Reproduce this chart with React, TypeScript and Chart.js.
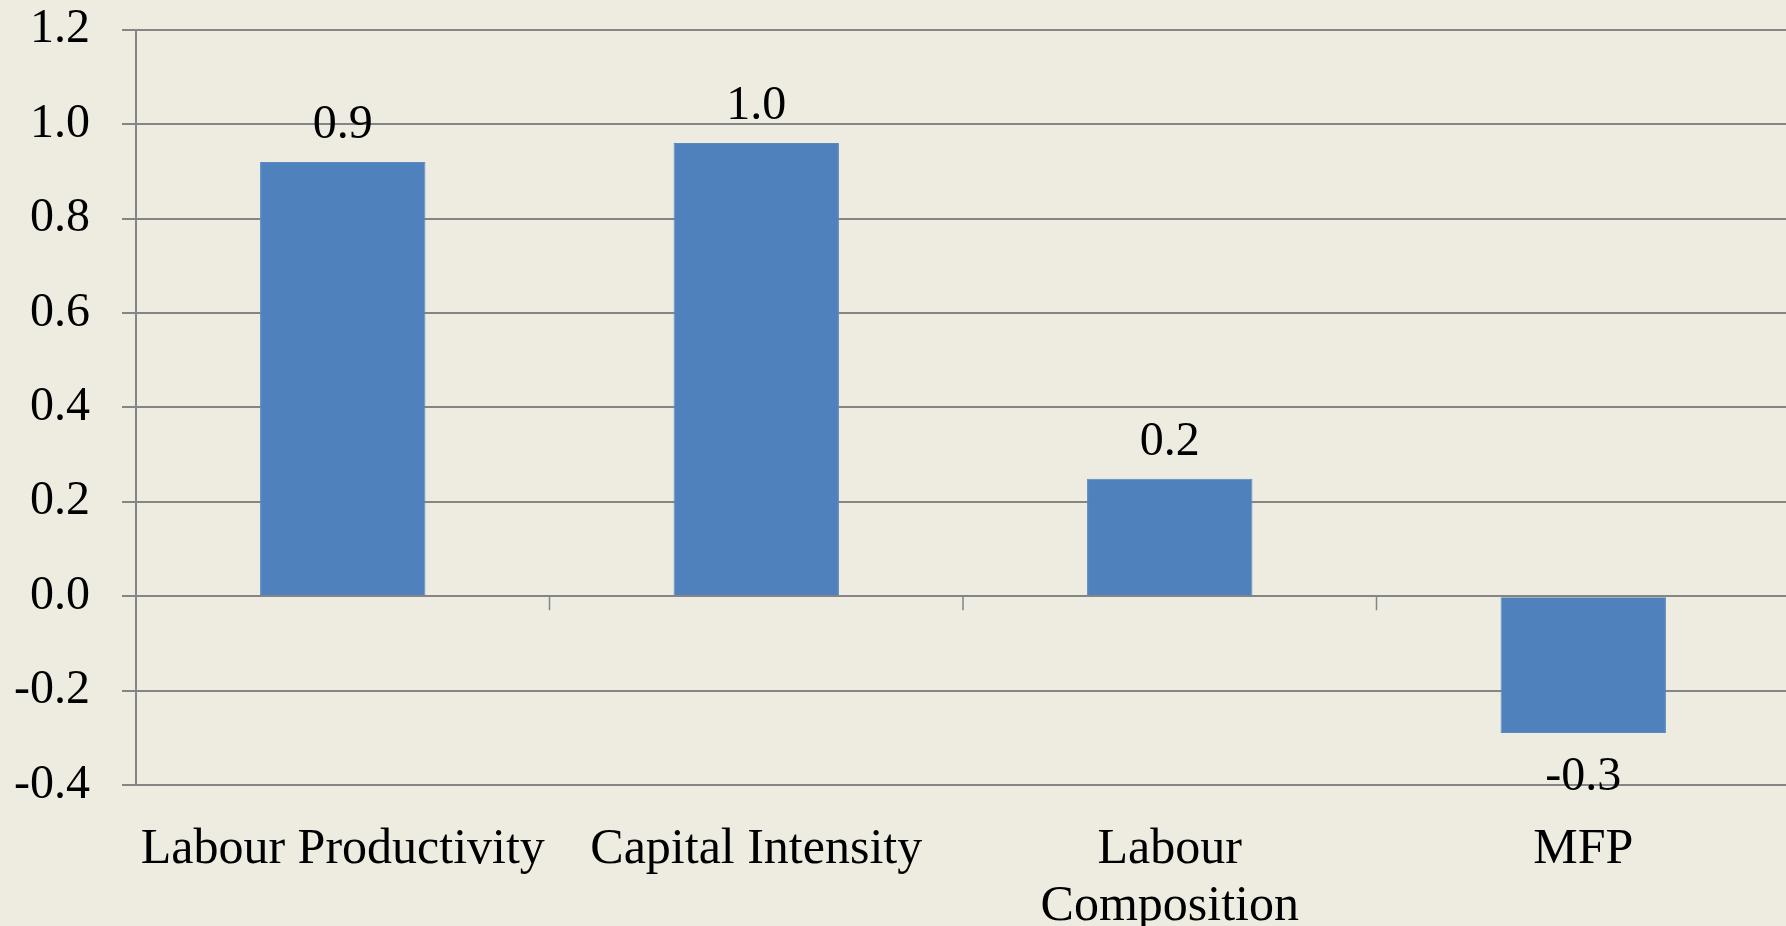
import React, { useEffect, useRef } from "react";
import { Chart, registerables } from "chart.js";

Chart.register(...registerables);

const categories: (string | string[])[] = [
  "Labour Productivity",
  "Capital Intensity",
  ["Labour", "Composition"],
  "MFP",
];
const values: number[] = [0.92, 0.96, 0.249, -0.29];
const yMin = -0.4;
const yMax = 1.2;
const yStep = 0.2;

const FONT = "'Liberation Serif', 'Times New Roman', serif";
const GRID = "#858585";
const SHIFT_TOP = 31;
const EXTRA_RIGHT = 4;

const valueLabels = {
  id: "valueLabels",
  afterDatasetsDraw(chart: any) {
    const ctx = chart.ctx;
    const meta = chart.getDatasetMeta(0);
    ctx.save();
    ctx.font = `48px ${FONT}`;
    ctx.fillStyle = "#000";
    ctx.textAlign = "center";
    ctx.textBaseline = "alphabetic";
    meta.data.forEach((el: any, i: number) => {
      const v = values[i];
      const txt = v.toFixed(1);
      if (v >= 0) ctx.fillText(txt, el.x, el.y - 24);
      else ctx.fillText(txt, el.x, el.y + 57);
    });
    ctx.restore();
  },
};

const zeroTicks = {
  id: "zeroTicks",
  afterDraw(chart: any) {
    const ctx = chart.ctx;
    const xs = chart.scales.x;
    const ys = chart.scales.y;
    const y0 = ys.getPixelForValue(0);
    ctx.save();
    ctx.strokeStyle = GRID;
    ctx.lineWidth = 1.5;
    for (let i = 0; i <= categories.length; i++) {
      const x = xs.getPixelForValue(i - 0.5);
      ctx.beginPath();
      ctx.moveTo(x, y0);
      ctx.lineTo(x, y0 + 14);
      ctx.stroke();
    }
    ctx.restore();
  },
};

export default function App() {
  const ref = useRef<HTMLCanvasElement | null>(null);
  useEffect(() => {
    if (!ref.current) return;
    const chart = new Chart(ref.current, {
      type: "bar",
      data: {
        labels: categories as any,
        datasets: [
          {
            data: values,
            backgroundColor: "#4F81BD",
            borderColor: "#5A8AC4",
            borderWidth: 1,
            barPercentage: 0.4,
            categoryPercentage: 1,
          },
        ],
      },
      options: {
        animation: false,
        responsive: false,
        layout: { padding: 0 },
        plugins: { legend: { display: false }, tooltip: { enabled: false } },
        scales: {
          x: {
            offset: true,
            grid: { display: false, drawTicks: false },
            border: { display: false },
            ticks: {
              color: "#000",
              font: { family: FONT, size: 50, lineHeight: 1.14 },
              padding: 36,
              maxRotation: 0,
              autoSkip: false,
            },
            afterFit: (s: any) => {
              s.height = 141;
            },
          },
          y: {
            min: yMin,
            max: yMax,
            grid: { color: GRID, lineWidth: 2, tickLength: 14, drawTicks: true },
            border: { display: true, color: GRID, width: 2 },
            ticks: {
              stepSize: yStep,
              color: "#000",
              padding: 32,
              font: { family: FONT, size: 48 },
              callback: (v: any) => Number(v).toFixed(1),
            },
            afterFit: (s: any) => {
              s.width = 136;
            },
          },
        },
      },
      plugins: [valueLabels, zeroTicks],
    });
    return () => chart.destroy();
  }, []);
  return (
    <div
      style={{
        position: "absolute",
        left: 0,
        top: 0,
        width: 1786,
        height: 926,
        overflow: "hidden",
        background: "#EEECE1",
      }}
    >
      <canvas
        ref={ref}
        width={1786 + EXTRA_RIGHT}
        height={926 + SHIFT_TOP}
        style={{ position: "absolute", left: 0, top: -SHIFT_TOP }}
      />
    </div>
  );
}
